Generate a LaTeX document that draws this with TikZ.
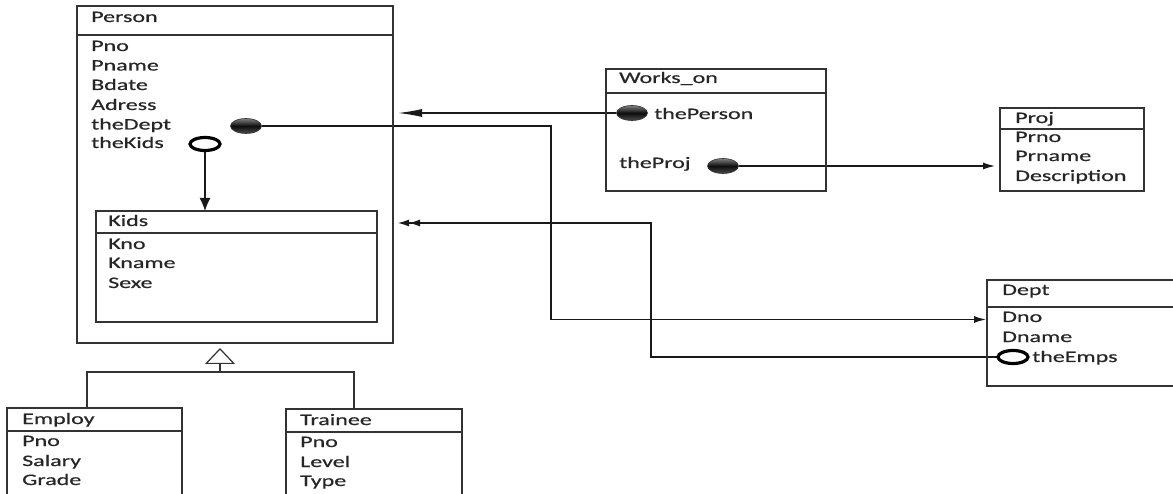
\documentclass[tikz,border=0pt]{standalone}
\usepackage{fontspec}
\setmainfont{Carlito}[FakeStretch=1.5,FakeBold=0.6]
\usetikzlibrary{arrows.meta,shapes.geometric,backgrounds}
\begin{document}
\begin{tikzpicture}[x=1pt,y=-1pt,
  box/.style={draw=black!80, line width=1.3pt, anchor=north west, inner sep=0pt, outer sep=0pt},
  hline/.style={draw=black!80, line width=1.2pt},
  txt/.style={anchor=base west, inner sep=0pt, text=black!85, font=\fontsize{16}{19}\selectfont},
  conn/.style={draw=black!90, line width=1.2pt},
  refball/.style={ellipse, minimum width=31pt, minimum height=15pt, inner sep=0pt,
    draw=black!80, line width=0.6pt, top color=black!50, bottom color=black!70, middle color=black!95},
  refring/.style={ellipse, minimum width=30pt, minimum height=13pt, inner sep=0pt,
    draw=black, line width=3.2pt, fill=white}]
\useasboundingbox (0,0) rectangle (1173,494);
\clip (0,0) rectangle (1173,494);
% boxes
\node[box, minimum width=316pt, minimum height=337pt] (person) at (77,6) {};
\draw[hline] (person.north west) ++(0,29) -- ++(316,0);
\node[box, minimum width=281pt, minimum height=111pt] (kids) at (96,211) {};
\draw[hline] (kids.north west) ++(0,22) -- ++(281,0);
\node[box, minimum width=175pt, minimum height=100pt] (employ) at (7,408) {};
\draw[hline] (employ.north west) ++(0,23) -- ++(175,0);
\node[box, minimum width=176pt, minimum height=100pt] (trainee) at (286,409) {};
\draw[hline] (trainee.north west) ++(0,23) -- ++(176,0);
\node[box, minimum width=220pt, minimum height=122pt] (works) at (606,69) {};
\draw[hline] (works.north west) ++(0,24) -- ++(220,0);
\node[box, minimum width=144pt, minimum height=83pt] (proj) at (1000,108) {};
\draw[hline] (proj.north west) ++(0,21) -- ++(144,0);
\node[box, minimum width=200pt, minimum height=106pt] (dept) at (987,280) {};
\draw[hline] (dept.north west) ++(0,27) -- ++(200,0);
% texts
\node[txt] (tperson) at (91,22) {Person};
\node[txt] (tpno) at (91,51) {Pno};
\node[txt] (tpname) at (91,70.5) {Pname};
\node[txt] (tbdate) at (91,90) {Bdate};
\node[txt] (tadress) at (91,110) {Adress};
\node[txt] (tthedept) at (91,129.5) {theDept};
\node[txt] (tthekids) at (91,148) {theKids};
\node[txt] (tkids) at (108,226) {Kids};
\node[txt] (tkno) at (108,249) {Kno};
\node[txt] (tkname) at (108,268) {Kname};
\node[txt] (tsexe) at (108,288) {Sexe};
\node[txt] (temploy) at (22,424) {Employ};
\node[txt] (tepno) at (22,446) {Pno};
\node[txt] (tsalary) at (22,466) {Salary};
\node[txt] (tgrade) at (22,485) {Grade};
\node[txt] (ttrainee) at (300,425) {Trainee};
\node[txt] (ttpno) at (300,447) {Pno};
\node[txt] (tlevel) at (300,467) {Level};
\node[txt] (ttype) at (300,486) {Type};
\node[txt] (tworks) at (619,83) {Works\_on};
\node[txt] (tperson2) at (654,119) {thePerson};
\node[txt] (ttheproj) at (619,168) {theProj};
\node[txt] (tproj) at (1015,123) {Proj};
\node[txt] (tprno) at (1015,142) {Prno};
\node[txt] (tprname) at (1015,161) {Prname};
\node[txt] (tdesc) at (1015,181) {Description};
\node[txt] (tdept) at (1002,295) {Dept};
\node[txt] (tdno) at (1002,322) {Dno};
\node[txt] (tdname) at (1002,342) {Dname};
\node[txt] (themps) at (1032,362) {theEmps};
% markers
\node[refball] (deptball) at (246,126) {};
\node[refring] (kidsring) at (205,144) {};
\node[refball] (personball) at (632,113) {};
\node[refball] (projball) at (723,166) {};
\node[refring] (empsring) at (1013,357) {};
% connectors
\coordinate (pin) at (398,113);
\coordinate (dblin) at (398,223);
\coordinate (deptin) at (986,319.5);
\coordinate (projin) at (995,166);
\begin{scope}[on background layer]
\draw[conn, -{Latex[length=13pt,width=11pt]}] (kidsring.south) -- (kidsring.south |- kids.north);
\draw[conn, -{Latex[length=24pt,width=8pt]}] (personball.west) -- (pin);
\draw[conn, -{Latex[length=12pt,width=7pt]}] (deptball.east) -- (551,126) -- (551,319.5) -- (deptin);
\draw[conn, -{Latex[length=12pt,width=7pt]}] (projball.east) -- (projin);
\draw[conn, -{Latex[length=11pt,width=7pt] Latex[length=11pt,width=7pt]}] (empsring.center) -- (651,357) -- (651,223) -- (dblin);
\end{scope}
% generalization
\coordinate (gapex) at (220,348);
\coordinate (gfork) at (220,372);
\draw[hline, -{Triangle[open,length=16pt,width=30pt]}] (gfork) -- (gapex);
\draw[hline] (87,408) |- (354,372) -- (354,409);
\end{tikzpicture}
\end{document}
